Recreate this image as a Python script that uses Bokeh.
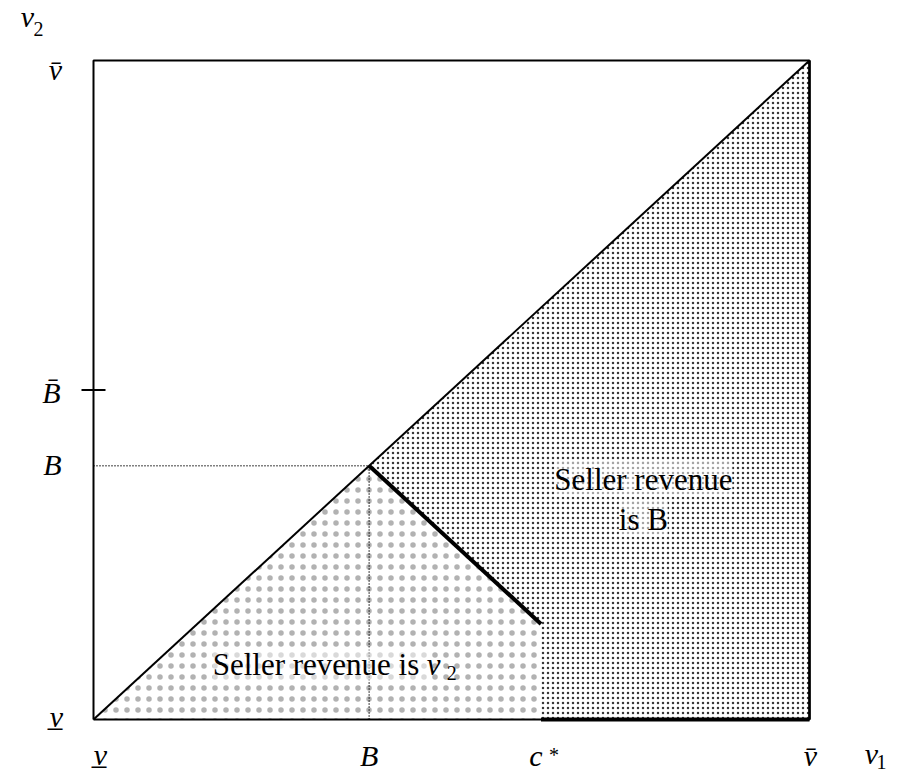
from bokeh.plotting import figure
from bokeh.models import Range1d, ColumnDataSource
from bokeh.core.properties import value
from bokeh.embed import file_html
from bokeh.resources import INLINE

# ---- values (unit square: v_low = 0, v_high = 1) ----
v_low = 0.0
v_high = 1.0
B = 0.385
B_bar = 0.5
c_star = 0.625
h_end = 0.145

# regions
sparse_x = [v_low, B, c_star, c_star]
sparse_y = [v_low, B, h_end, v_low]
dense_x = [B, v_high, v_high, c_star, c_star]
dense_y = [B, v_high, v_low, v_low, h_end]

# tick labels (anchored on the square, offsets in screen pixels)
OVER = "\u0304"
UNDER = "\u0332"
lab_text = ["v" + OVER, "v", "B" + OVER, "B", "v" + UNDER,
            "v" + UNDER, "B", "c", "v" + OVER, "v"]
lab_x = [v_low, v_low, v_low, v_low, v_low, v_low, B, c_star, v_high, v_high]
lab_y = [v_high, v_high, B_bar, B, v_low, v_low, v_low, v_low, v_low, v_low]
lab_dx = [-38, -66, -42, -41, -37, 7, 0, -5, 1, 62]
lab_dy = [9, -44, 2.5, -1.3, -3, 35, 36, 36, 36, 34]

sub_text = ["2", "1", "*"]
sub_x = [v_low, v_high, c_star]
sub_y = [v_high, v_low, v_low]
sub_dx = [-55, 72, 13]
sub_dy = [-32, 42, 35]

FONT = value("Liberation Serif")

# layout: square drawn at 716 x 659 px, top-left corner at (93, 60)
W, H = 904, 774
SX, SY, L, T = 716, 659, 93, 60
x_range = Range1d(v_low - L / SX, v_low + (W - L) / SX)
y_range = Range1d(v_high - (H - T) / SY, v_high + T / SY)

p = figure(width=W, height=H, x_range=x_range, y_range=y_range,
           x_axis_type=None, y_axis_type=None, toolbar_location=None, output_backend="svg",
           min_border=0)
p.grid.visible = False
p.outline_line_color = None
p.background_fill_color = "white"
p.border_fill_color = "white"

# shaded regions
p.patch(sparse_x, sparse_y, fill_color="white", line_color=None,
        hatch_pattern="dot", hatch_scale=11, hatch_color="black", hatch_alpha=0.3,
        hatch_weight=0.5)
p.patch(dense_x, dense_y, fill_color="white", line_color=None,
        hatch_pattern="dot", hatch_scale=5, hatch_color="#222222", hatch_alpha=0.9,
        hatch_weight=2)

# square frame
p.line([v_low, v_high, v_high, v_low, v_low], [v_low, v_low, v_high, v_high, v_low],
       line_color="black", line_width=2)
# diagonal
p.line([v_low, v_high], [v_low, v_high], line_color="black", line_width=2)
# dotted guides
p.line([v_low, B], [B, B], line_color="black", line_width=1.5, line_dash="1 2")
p.line([B, B], [v_low, B], line_color="black", line_width=1.5, line_dash="1 2")
# thick boundary
p.line([B, c_star], [B, h_end], line_color="black", line_width=4)
p.line([c_star, v_high], [v_low, v_low], line_color="black", line_width=4)
p.line([v_high, v_high], [v_low, v_high], line_color="black", line_width=2.5)

# B-bar tick
p.scatter([v_low], [B_bar], marker="dash", size=24, line_color="black", line_width=2)

# region texts
p.text(x=[0.768], y=[0.3642], text=["Seller revenue"], text_font=FONT, text_font_size="31px",
       text_align="center", text_baseline="alphabetic", text_color="black",
       background_fill_color="white", background_fill_alpha=0.55)
p.text(x=[0.768], y=[0.3035], text=["is B"], text_font=FONT, text_font_size="31px",
       text_align="center", text_baseline="alphabetic", text_color="black",
       background_fill_color="white", background_fill_alpha=0.55)
p.text(x=[0.1665], y=[0.0835], text=["Seller revenue is "], text_font=FONT, text_font_size="31px",
       text_align="left", text_baseline="alphabetic", text_color="black",
       background_fill_color="white", background_fill_alpha=0.5)
p.text(x=[0.1665], y=[0.0835], text=["v"], x_offset=214, text_font=FONT, text_font_size="31px",
       text_font_style="italic", text_align="left", text_baseline="alphabetic", text_color="black")
p.text(x=[0.1665], y=[0.0835], text=["2"], x_offset=234, y_offset=9, text_font=FONT,
       text_font_size="20px", text_align="left", text_baseline="alphabetic", text_color="black")

# axis labels
lab_src = ColumnDataSource(dict(x=lab_x, y=lab_y, text=lab_text, dx=lab_dx, dy=lab_dy))
p.text(x="x", y="y", text="text", x_offset="dx", y_offset="dy", source=lab_src,
       text_font=FONT, text_font_size="30px", text_font_style="italic",
       text_align="center", text_baseline="alphabetic", text_color="black")
sub_src = ColumnDataSource(dict(x=sub_x, y=sub_y, text=sub_text, dx=sub_dx, dy=sub_dy))
p.text(x="x", y="y", text="text", x_offset="dx", y_offset="dy", source=sub_src,
       text_font=FONT, text_font_size="20px",
       text_align="center", text_baseline="alphabetic", text_color="black")

open("out.html", "w").write(file_html(p, INLINE))
